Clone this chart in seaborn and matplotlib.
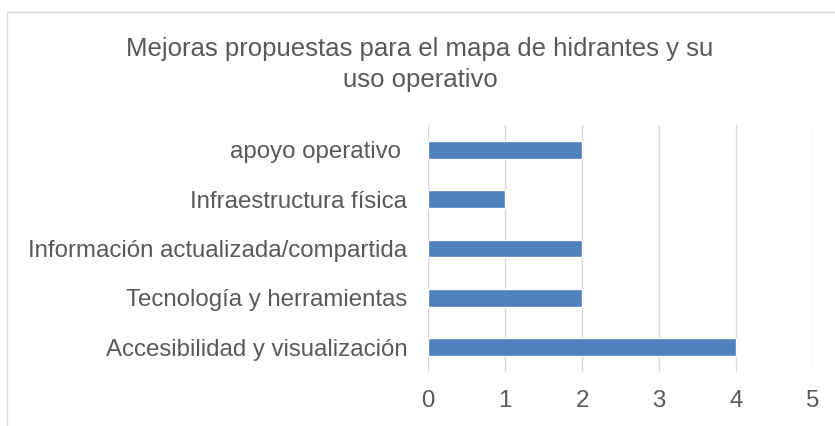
import matplotlib
matplotlib.use("Agg")
import matplotlib.pyplot as plt
import pandas as pd
import seaborn as sns
from matplotlib.patches import Rectangle

categorias = [
    "apoyo operativo ",
    "Infraestructura física",
    "Información actualizada/compartida",
    "Tecnología y herramientas",
    "Accesibilidad y visualización",
]
valores = [2, 1, 2, 2, 4]
ticks_x = [0, 1, 2, 3, 4, 5]

df = pd.DataFrame({"categoria": categorias, "valor": valores})

sns.set_style("white")
plt.rcParams["font.family"] = ["Liberation Sans", "DejaVu Sans"]
texto = "#595959"

fig = plt.figure(figsize=(8.35, 4.26), dpi=100)
ax = fig.add_axes([0.5126, 0.1268, 0.4611, 0.58])

sns.barplot(data=df, x="valor", y="categoria", orient="h", color="#4F81BD",
            saturation=1, width=0.36, ax=ax)

ax.set_xlim(0, 5)
ax.set_xticks(ticks_x)
ax.set_xlabel("")
ax.set_ylabel("")
ax.grid(axis="x", color="#D9D9D9", linewidth=1)
ax.set_axisbelow(True)
for s in ax.spines.values():
    s.set_visible(False)
ax.tick_params(axis="y", length=0, pad=15, labelsize=17.3, labelcolor=texto)
ax.tick_params(axis="x", length=0, pad=13, labelsize=17.3, labelcolor=texto)

fig.text(0.503, 0.849, "Mejoras propuestas para el mapa de hidrantes y su\nuso operativo",
         ha="center", va="center", fontsize=18.5, color=texto, linespacing=1.38)

# borde del área del gráfico
fig.patches.append(Rectangle((7 / 835, -0.1), 1.2, 1 - 12 / 426 + 0.1,
                             transform=fig.transFigure, fill=False,
                             edgecolor="#D9D9D9", linewidth=1))

fig.savefig("out.png", dpi=100)
